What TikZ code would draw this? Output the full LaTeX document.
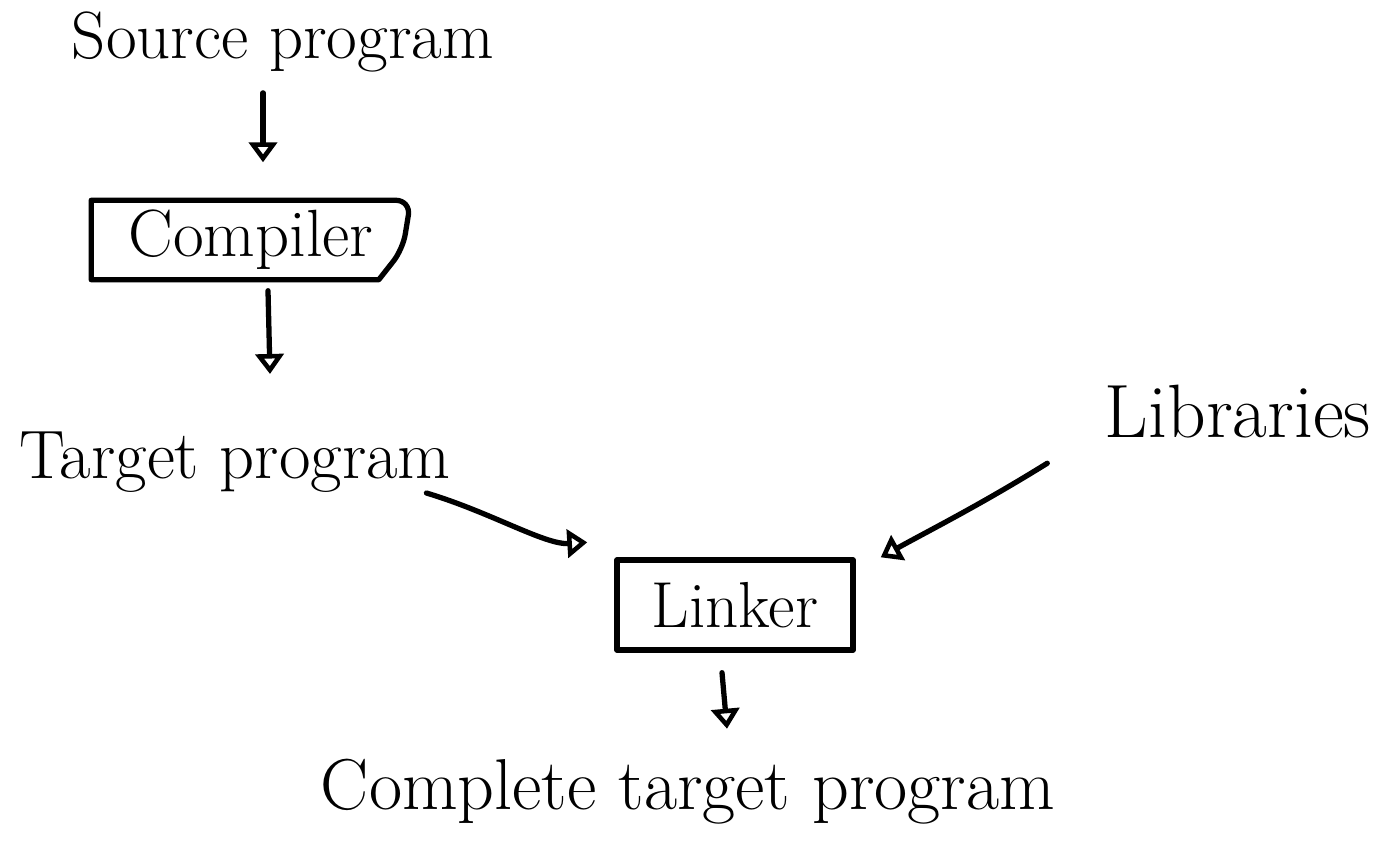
\documentclass[tikz,border=0pt]{standalone}
\usetikzlibrary{arrows.meta,calc}
\tikzset{
  label/.style={inner sep=0pt},
  sz/.style={font=\fontsize{#1}{#1}\selectfont},
  stroke/.style={line width=1.5pt, line cap=round, line join=round},
  arr/.style={stroke, -{Triangle[open, length=0.2cm, width=0.28cm, line width=1.3pt]}},
}
\begin{document}
\begin{tikzpicture}[x=0.01cm, y=-0.01cm]
\useasboundingbox (0,0) rectangle (1394,843);

% labels and boxes
\node[label, sz=19] (src) at (283,42) {Source program};
\node[label, sz=19, minimum width=3.18cm, minimum height=0.78cm] (comp) at (251,240) {Compiler\hspace{0.28cm}};
\node[label, sz=19.5] (tgt) at (235,462) {Target program};
\node[label, sz=18.5, draw, stroke, minimum width=2.36cm, minimum height=0.9cm] (link) at (735,605) {Linker};
\node[label, sz=21.5] (lib) at (1238,412) {Libraries};
\node[label, sz=20.5] (out) at (688,792) {Complete target program};

% compiler outline: rounded top right, cut bottom right
\draw[stroke] (comp.south west) -- (comp.north west)
  [rounded corners=0.15cm] -- (comp.north east)
  -- ($(comp.north east)+(-8,49)$) [sharp corners]
  -- ($(comp.south east)+(-32,0)$) -- (comp.south west);

% connectors
\draw[arr] ($(src.south)+(-20,20)$) -- ($(comp.north)+(12,-38)$);
\draw[arr] ($(comp.south)+(17,11)$) -- ($(tgt.north)+(35,-57)$);
\draw[arr] ($(tgt.south east)+(-25,0)$) .. controls (490,512) and (545,545) .. ($(link.north west)+(-27,-15)$);
\draw[arr] ($(lib.south west)+(-57,24)$) .. controls (980,505) and (930,530) .. ($(link.north east)+(25,0)$);
\draw[arr] ($(link.south)+(-13,20)$) -- ($(out.north)+(39,-30)$);
\end{tikzpicture}
\end{document}
